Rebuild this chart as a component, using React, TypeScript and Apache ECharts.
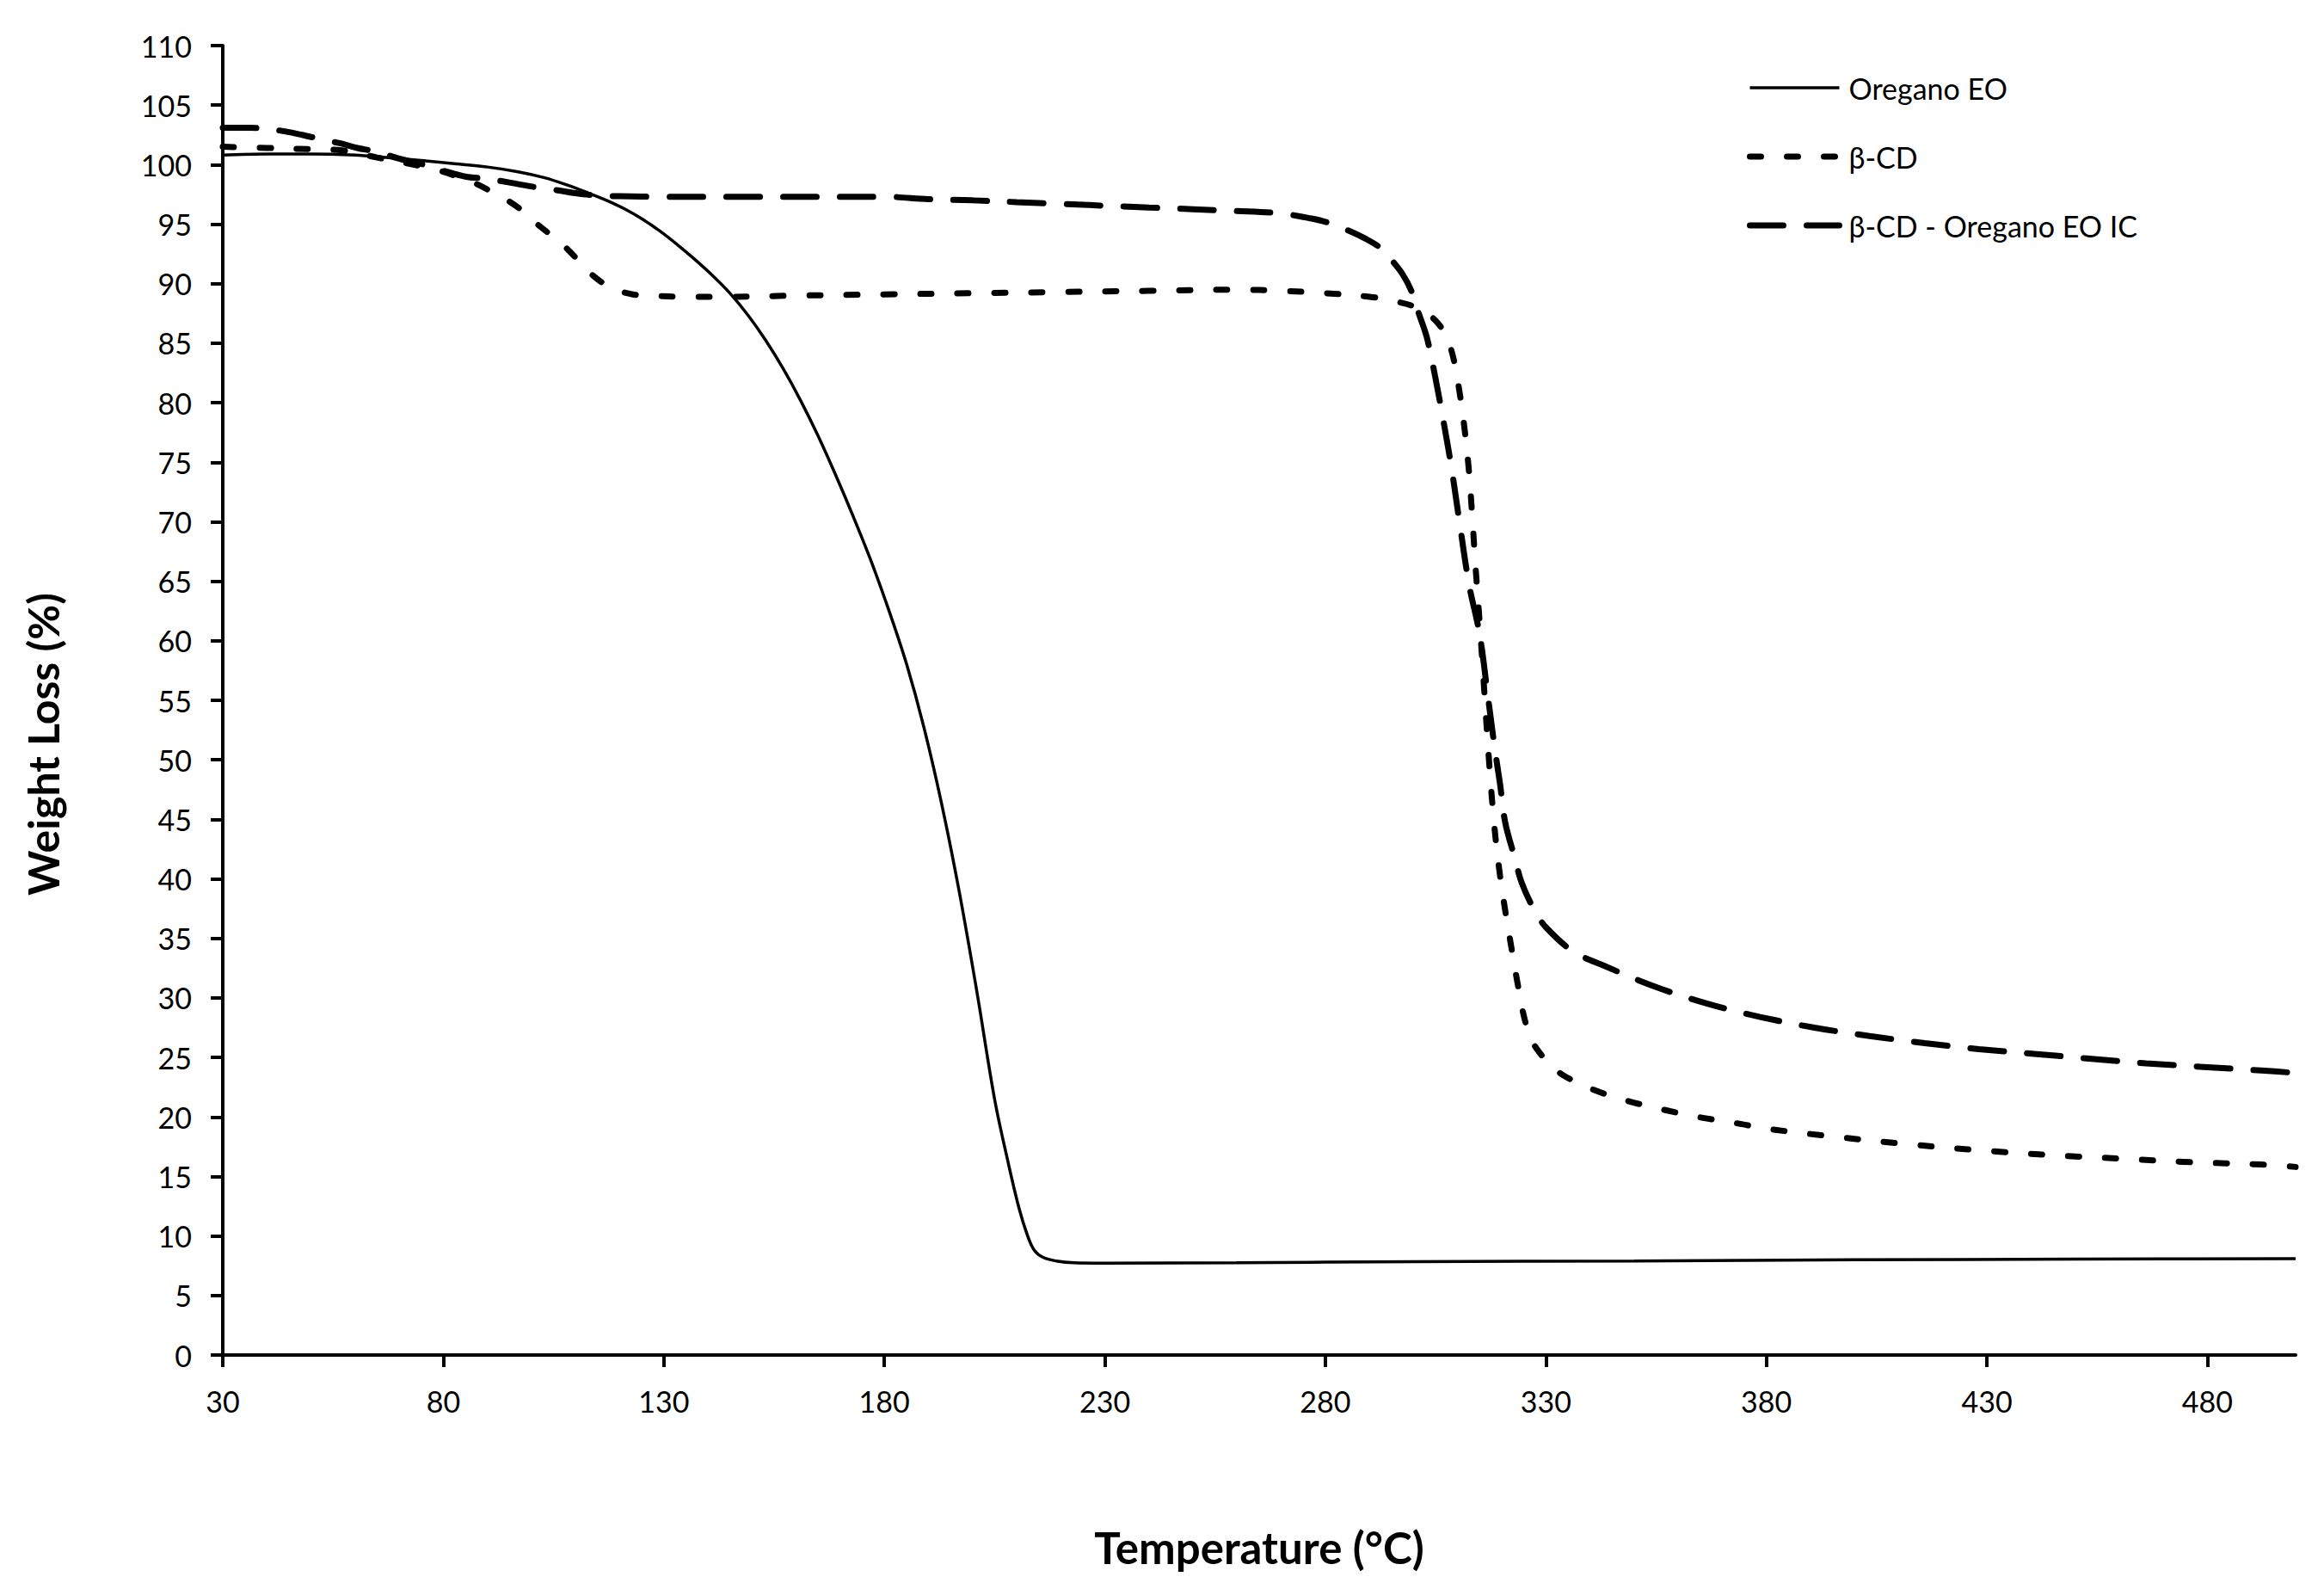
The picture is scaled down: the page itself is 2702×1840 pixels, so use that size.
import React, { useEffect, useRef } from "react";
import * as echarts from "echarts";

const seriesNames = ["Oregano EO", "β-CD", "β-CD - Oregano EO IC"];
const xTitle = "Temperature (°C)";
const yTitle = "Weight Loss (%)";
const xTickValues = [30, 80, 130, 180, 230, 280, 330, 380, 430, 480];

// [temperature °C, weight %]
const oreganoEO: number[][] = [
  [30, 100.8], [40, 100.9], [50, 100.9], [60, 100.8], [67, 100.6], [75, 100.35],
  [82, 100.1], [90, 99.8], [97, 99.4], [103, 98.9], [108, 98.3], [113, 97.6],
  [117, 97.0], [121, 96.3], [125, 95.45], [129, 94.45], [133, 93.3], [137, 92.05],
  [141, 90.7], [145, 89.2], [149, 87.4], [153, 85.3], [157, 82.9], [161, 80.2],
  [165, 77.2], [169, 73.9], [173, 70.4], [177, 66.7], [181, 62.6], [185, 58.1],
  [189, 52.7], [193, 46.3], [197, 38.9], [201, 30.5], [205, 21.5], [208, 16.3],
  [210.5, 12.4], [212.5, 10.0], [214, 8.8], [216, 8.2], [219, 7.9], [223, 7.75],
  [230, 7.72], [260, 7.75], [300, 7.85], [350, 7.9], [400, 8.0], [450, 8.05], [500, 8.1],
];

const betaCD: number[][] = [
  [30, 101.5], [40, 101.4], [50, 101.3], [57, 101.2], [65, 100.6], [72, 100.1],
  [79, 99.5], [84, 98.9], [88, 98.3], [92, 97.5], [95, 96.9], [98, 96.1],
  [101, 95.1], [104, 94.2], [107, 93.3], [110, 92.2], [113, 91.0], [116, 90.1],
  [119, 89.5], [123, 89.1], [127, 89.0], [135, 88.9], [145, 88.9], [160, 89.0],
  [180, 89.1], [200, 89.2], [220, 89.3], [240, 89.4], [260, 89.5], [270, 89.4],
  [280, 89.2], [290, 88.9], [296, 88.5], [300, 88.1], [303, 87.5], [305.5, 86.7],
  [307.5, 85.5], [309, 83.8], [310.3, 81.2], [311.5, 78.0], [312.5, 74.5], [313.3, 70.5],
  [314, 66.5], [315, 61.5], [316, 56.0], [317, 50.5], [318.3, 44.5], [319.6, 40.3],
  [320.8, 37.3], [322.2, 34.2], [323.6, 31.2], [325.2, 28.2], [327, 26.3], [329, 25.2],
  [331.5, 24.2], [334.4, 23.4], [341.4, 22.2], [349, 21.3], [356.8, 20.6], [364.4, 20.0],
  [372.8, 19.5], [380.4, 19.0], [396.4, 18.3], [412.4, 17.7], [428.2, 17.2], [444.2, 16.8],
  [460.2, 16.5], [476.2, 16.2], [492.2, 16.0], [500, 15.8],
];

const betaCDOreganoIC: number[][] = [
  [30, 103.1], [36, 103.1], [40, 103.0], [44, 102.8], [48, 102.5], [52.6, 102.1],
  [56.5, 101.8], [60.5, 101.4], [64.7, 101.1], [70, 100.5], [76.6, 99.9], [80, 99.5],
  [85, 99.0], [90, 98.8], [95, 98.5], [101, 98.1], [105, 97.9], [110, 97.6],
  [115, 97.4], [120, 97.35], [130, 97.3], [150, 97.3], [170, 97.3], [180, 97.3],
  [190, 97.1], [200, 97.0], [210, 96.85], [220, 96.7], [240, 96.4], [260, 96.1],
  [270, 95.9], [275, 95.6], [280, 95.2], [285, 94.5], [289, 93.8], [292.5, 93.0],
  [295, 92.0], [297.5, 90.8], [299.5, 89.4], [301, 87.7], [303, 85.5], [305, 82.0],
  [307, 78.0], [308.7, 74.3], [310.6, 69.5], [312.6, 64.7], [315, 60.5], [316.8, 55.5],
  [318.4, 51.0], [319.6, 48.0], [320.8, 44.7], [323, 41.7], [324.5, 39.7], [327.5, 37.3],
  [330.1, 35.9], [336.2, 33.9], [343.2, 32.7], [355.1, 30.9], [366.8, 29.5], [378.6, 28.4],
  [390.9, 27.5], [403.4, 26.8], [415.9, 26.2], [428.2, 25.7], [440.7, 25.3], [453.2, 24.9],
  [466.1, 24.5], [479.1, 24.2], [492.2, 23.9], [500, 23.7],
];

const FONT = "Lato, 'Open Sans', sans-serif";

const styles = [
  { width: 3.5, type: "solid", cap: "butt" },
  { width: 7, type: [13, 30], cap: "round" },
  { width: 7, type: [39, 27], cap: "round" },
];

export default function App() {
  const ref = useRef<HTMLDivElement>(null);

  useEffect(() => {
    document.body.style.margin = "0";
    if (!ref.current) return;
    const chart = echarts.init(ref.current, null, { renderer: "svg" });

    const datasets = [oreganoEO, betaCD, betaCDOreganoIC];

    chart.setOption({
      animation: false,
      backgroundColor: "#fff",
      textStyle: { fontFamily: FONT, color: "#000" },
      grid: { left: 259, right: 33, top: 53, bottom: 265, containLabel: false },
      legend: {
        orient: "vertical",
        left: 2026,
        top: 80,
        itemWidth: 104,
        itemHeight: 14,
        itemGap: 46,
        itemStyle: { opacity: 0 },
        data: seriesNames.map((name, i) => ({
          name,
          itemStyle: { opacity: 0, borderWidth: 0 },
          lineStyle: { color: "#000", width: styles[i].width, type: styles[i].type, cap: styles[i].cap, opacity: 1 },
        })),
        textStyle: { fontFamily: FONT, fontSize: 34, color: "#000", lineHeight: 34, padding: [0, 0, 0, 6] },
      },
      xAxis: {
        type: "value",
        min: 30,
        max: 500,
        name: xTitle,
        nameLocation: "middle",
        nameGap: 198,
        nameTextStyle: { fontFamily: FONT, fontSize: 51, fontWeight: "bold", color: "#000" },
        axisLine: { show: true, onZero: false, lineStyle: { color: "#000", width: 4 } },
        axisTick: { show: true, inside: false, length: 14, customValues: xTickValues, lineStyle: { color: "#000", width: 4 } },
        axisLabel: { customValues: xTickValues, fontFamily: FONT, fontSize: 34, color: "#000", margin: 36 },
        splitLine: { show: false },
      },
      yAxis: {
        type: "value",
        min: 0,
        max: 110,
        interval: 5,
        name: yTitle,
        nameLocation: "middle",
        nameGap: 184,
        nameRotate: 90,
        nameTextStyle: { fontFamily: FONT, fontSize: 50, fontWeight: "bold", color: "#000", padding: [0, 102, 0, 0] },
        axisLine: { show: true, onZero: false, lineStyle: { color: "#000", width: 4 } },
        axisTick: { show: true, inside: false, length: 14, lineStyle: { color: "#000", width: 4 } },
        axisLabel: { fontFamily: FONT, fontSize: 34, color: "#000", margin: 36 },
        splitLine: { show: false },
      },
      series: seriesNames.map((name, i) => ({
        name,
        type: "line",
        data: datasets[i],
        showSymbol: false,
        symbol: "none",
        smooth: 0.35,
        lineStyle: { color: "#000", width: styles[i].width, type: styles[i].type, cap: styles[i].cap },
        itemStyle: { color: "#000" },
      })),
    });

    return () => chart.dispose();
  }, []);

  return <div ref={ref} style={{ width: 2702, height: 1840 }} />;
}
